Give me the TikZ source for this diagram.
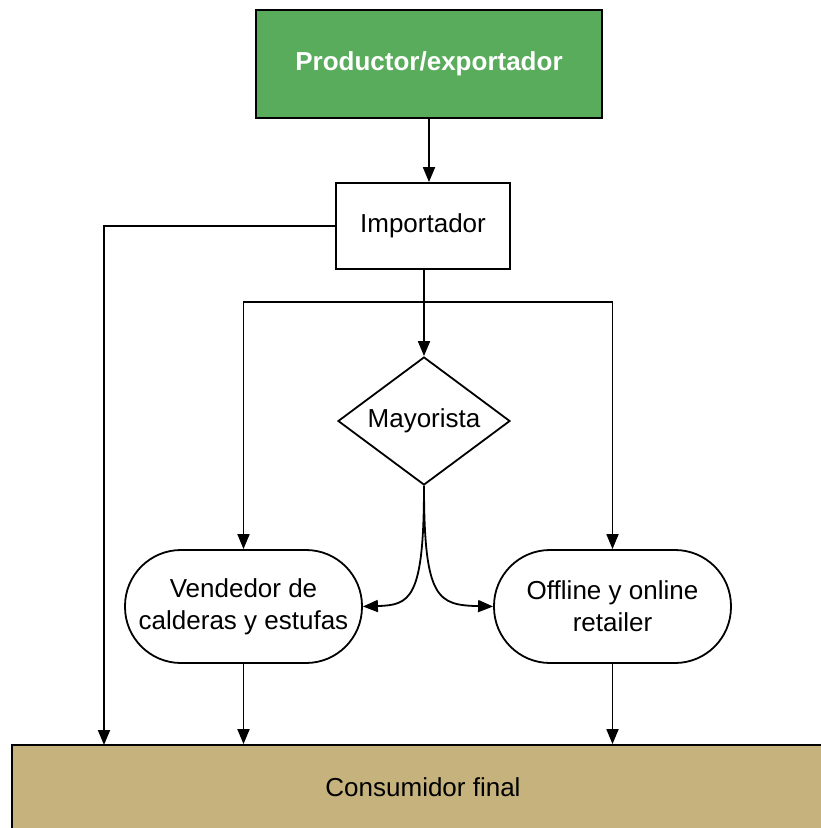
\documentclass[tikz,border=0pt]{standalone}
\usepackage{fontspec}
\setmainfont{Liberation Sans}
\usepackage{tikz}
\usetikzlibrary{arrows.meta,shapes.geometric,positioning}
\usepackage{xcolor}
\definecolor{prodgreen}{HTML}{5AAC5D}
\definecolor{constan}{HTML}{C5B27C}

\begin{document}
\begin{tikzpicture}[x=1pt, y=-1pt, line width=1.8pt,
    every node/.style={font=\fontsize{26}{32}\selectfont, inner sep=0pt, align=center},
    arr/.style={-{Triangle[length=15pt,width=12pt]}}]
    \useasboundingbox (0,0) rectangle (821,828);

    % Productor
    \node[draw, fill=prodgreen, text=white, font=\fontsize{26}{32}\selectfont\bfseries, minimum width=346pt, minimum height=108pt] (prod) at (429,64) {Productor/exportador};

    % Importador
    \node[draw, fill=white, minimum width=174pt, minimum height=86pt] (imp) at (423,226) {Importador};

    % Mayorista
    \node[draw, diamond, aspect=1.34, minimum width=172pt, minimum height=128pt] (may) at (424,421) {Mayorista};

    % Retailers
    \node[draw, rounded corners=56pt, minimum width=237pt, minimum height=113pt] (vend) at (243.5,606.5) {Vendedor de\\calderas y estufas};
    \node[draw, rounded corners=56pt, minimum width=237pt, minimum height=113pt] (off) at (612.5,606.5) {Offline y online\\retailer};

    % Consumidor
    \node[draw, fill=constan, minimum width=822pt, minimum height=84pt] (cons) at (423,787) {Consumidor final};

    % Helper points
    \coordinate (split) at (424,302);
    \coordinate (left) at (104,745);

    % Arrows
    \draw[arr] (prod.south) -- (prod.south |- imp.north);
    \draw[arr] (imp.west) -| (left);
    \draw (imp.south -| split) -- (split);
    \draw[arr] (split) -- (may.north);
    \draw[arr] (split) -| (vend.north);
    \draw[arr] (split) -| (off.north);
    \draw[arr] (may.south) .. controls (424,600) and (410,605) .. (vend.east);
    \draw[arr] (may.south) .. controls (424,600) and (438,605) .. (off.west);
    \draw[arr] (vend.south) -- (cons.north -| vend.south);
    \draw[arr] (off.south) -- (cons.north -| off.south);

\end{tikzpicture}
\end{document}
